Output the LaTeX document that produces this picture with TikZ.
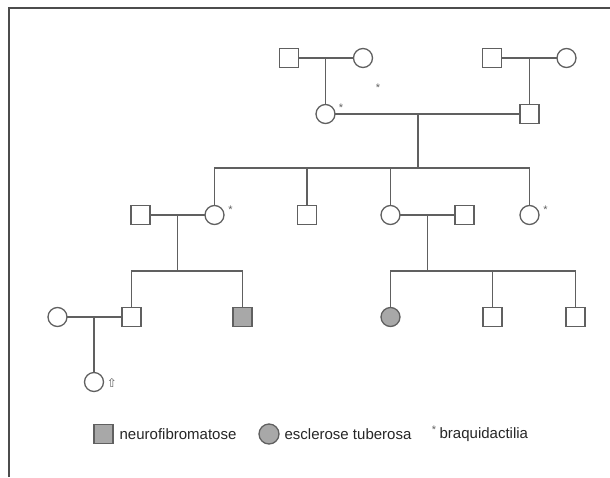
\documentclass[tikz,border=0pt]{standalone}
\usepackage{fontspec}
\setmainfont{Liberation Sans}
\newfontfamily\symfont{DejaVu Sans}
\definecolor{ln}{HTML}{606060}
\definecolor{fl}{HTML}{A8A8A8}
\begin{document}
\begin{tikzpicture}[x=1pt,y=-1pt,
  line width=1.3pt, ln,
  male/.style={draw=ln, fill=white, minimum size=19pt, inner sep=0pt, outer sep=0pt},
  female/.style={circle, draw=ln, fill=white, minimum size=19pt, inner sep=0pt, outer sep=0pt},
  aff/.style={fill=fl},
  star/.style={font=\fontsize{11}{11}\selectfont, text=ln, inner sep=0pt},
  lbl/.style={font=\fontsize{15}{18}\selectfont, text=black!85, anchor=west, inner sep=0pt}]
\useasboundingbox (0,0) rectangle (610,477);
\draw[line width=1.6pt, black!70] (9,477) -- (9,8) -- (610,8);
% Generation I
\node[male] (m1) at (289,58) {};
\node[female] (f1) at (363,58) {};
\node[male] (m2) at (492,58) {};
\node[female] (f2) at (566.5,58) {};
% Generation II
\node[female] (f3) at (325.5,114) {};
\node[male] (m3) at (529.5,114) {};
% Generation III
\node[male] (m4) at (140.5,215) {};
\node[female] (f4) at (214.5,215) {};
\node[male] (m5) at (307,215) {};
\node[female] (f5) at (390.5,215) {};
\node[male] (m6) at (464.5,215) {};
\node[female] (f6) at (529.5,215) {};
% Generation IV
\node[female] (f7) at (57.5,317) {};
\node[male] (m7) at (131.5,317) {};
\node[male,aff] (m8) at (242.5,317) {};
\node[female,aff] (f8) at (390.5,317) {};
\node[male] (m9) at (492.5,317) {};
\node[male] (m10) at (575.5,317) {};
% Generation V
\node[female] (f9) at (94,382) {};
% marriages
\draw (m1) -- (f1);
\draw (m2) -- (f2);
\draw (f3) -- (m3);
\draw (m4) -- (f4);
\draw (f5) -- (m6);
\draw (f7) -- (m7);
% descents
\coordinate (j1) at (325.5,58);
\coordinate (j2) at (529.5,58);
\coordinate (j3) at (418,114);
\coordinate (s3) at (418,168);
\coordinate (j4) at (177.5,215);
\coordinate (s4) at (177.5,271);
\coordinate (j5) at (427.5,215);
\coordinate (s5) at (427.5,271);
\coordinate (j6) at (94,317);
\draw (j1) -- (f3.north);
\draw (j2) -- (m3.north);
\draw (j3) -- (s3);
\draw (f4.north) |- (s3) -| (f6.north);
\draw (m5.north) -- (m5.north |- s3);
\draw (f5.north) -- (f5.north |- s3);
\draw (j4) -- (s4);
\draw (m7.north) |- (s4) -| (m8.north);
\draw (j5) -- (s5);
\draw (f8.north) |- (s5) -| (m10.north);
\draw (m9.north) -- (m9.north |- s5);
\draw (j6) -- (f9.north);
% asterisks
\node[star] (a0) at (378,88) {*};
\node[star] (a1) at (341,108) {*};
\node[star] (a2) at (230.5,210) {*};
\node[star] (a3) at (545.5,210) {*};
\node[text=ln, inner sep=0pt, font=\symfont\fontsize{12}{12}\selectfont] (arr) at (112,383) {⇧};
% legend
\node[male,aff] (lg1) at (103.5,434) {};
\node[lbl] (lt1) at (119,434.5) {neurofibromatose};
\node[female,aff, minimum size=20pt] (lg2) at (269,434) {};
\node[lbl] (lt2) at (284,434.5) {esclerose tuberosa};
\node[star] (lg3) at (434,430) {*};
\node[lbl] (lt3) at (439,434.5) {braquidactilia};
\end{tikzpicture}
\end{document}
